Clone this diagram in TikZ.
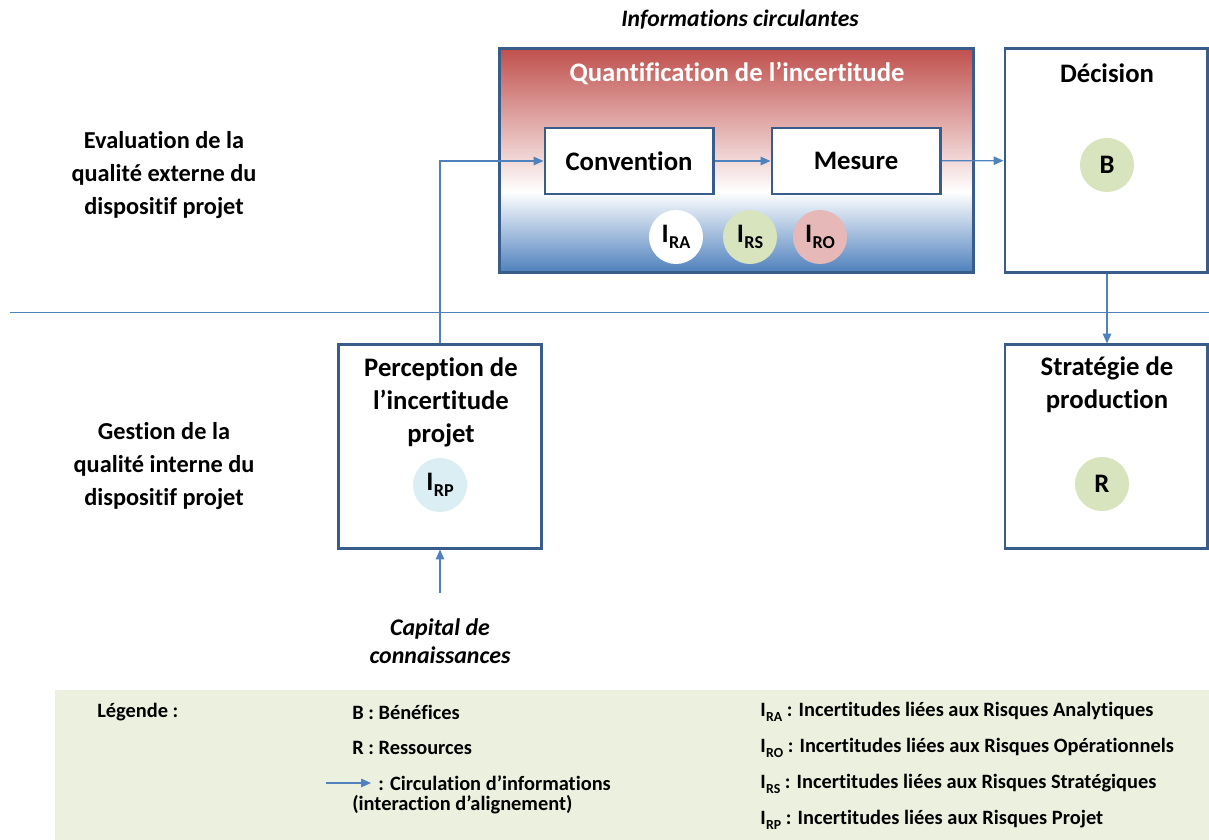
\documentclass[tikz,border=0pt]{standalone}
\usepackage{fontspec}
\setmainfont{Carlito}[Ligatures={TeX,NoCommon}]
\usetikzlibrary{arrows.meta}
\definecolor{qred}{HTML}{C0504D}
\definecolor{qblue}{HTML}{4F81BD}
\definecolor{boxline}{HTML}{385D8A}
\definecolor{flow}{HTML}{4F81BD}
\definecolor{tokgreen}{HTML}{D7E4BD}
\definecolor{tokpink}{HTML}{E6B9B8}
\definecolor{tokcyan}{HTML}{DAEEF3}
\definecolor{legfill}{HTML}{EBF1DE}
\pgfdeclareverticalshading{quantshade}{100bp}{color(0bp)=(qblue); color(25bp)=(qblue); color(43bp)=(white); color(75bp)=(qred); color(100bp)=(qred)}
\newcommand{\isub}[1]{I\kern0.3pt\raisebox{-0.5ex}{\scalebox{0.68}{#1}}}
\tikzset{
  frame/.style={draw=boxline,line width=2.1pt,inner sep=0pt},
  token/.style={circle,minimum size=1.35cm,inner sep=0pt,font=\fontsize{19}{23}\selectfont\bfseries},
  flowarrow/.style={draw=flow,line width=0.9pt,-{Triangle[length=7pt,width=6pt]}},
  big/.style={font=\fontsize{19}{23.4}\selectfont\bfseries,align=center},
  side/.style={font=\fontsize{17.3}{23.4}\selectfont\bfseries,align=center},
  legtext/.style={font=\fontsize{14.5}{17}\selectfont\bfseries,anchor=west,inner sep=0pt},
}
\begin{document}
\begin{tikzpicture}[x=0.025cm,y=-0.025cm]
\useasboundingbox (0,0) rectangle (1209,840);
% Top title
\node[font=\fontsize{16.8}{19}\selectfont\bfseries\itshape] (infos) at (740,20) {Informations circulantes};
% Separator
\draw[flow,line width=0.6pt] (10,312) -- (1209,312);
% Side labels
\node[side] (evalq) at (164,175) {Evaluation de la\\qualité externe du\\dispositif projet};
\node[side] (gestq) at (164,466) {Gestion de la\\qualité interne du\\dispositif projet};
% Quantification de l'incertitude
\node[frame,shading=quantshade,minimum width=11.825cm,minimum height=5.575cm] (quant) at (736.5,160.5) {};
\node[big,text=white] (quanttitle) at (737,73) {Quantification de l’incertitude};
\node[frame,fill=white,big,minimum width=4.2cm,minimum height=1.65cm] (conv) at (629,161) {Convention};
\node[frame,fill=white,big,minimum width=4.2cm,minimum height=1.65cm] (mesure) at (856,161) {Mesure};
\node[token,fill=white] (ira) at (676,237) {\isub{RA}};
\node[token,fill=tokgreen] (irs) at (750,237) {\isub{RS}};
\node[token,fill=tokpink] (iro) at (820,237) {\isub{RO}};
% Decision
\node[frame,fill=white,minimum width=5.05cm,minimum height=5.575cm] (dec) at (1106,160.5) {};
\node[big] (dectitle) at (1107,73) {Décision};
\node[token,fill=tokgreen] (ben) at (1107,165) {B};
% Strategie de production
\node[frame,fill=white,minimum width=5.05cm,minimum height=5.075cm] (strat) at (1106,446.5) {};
\node[big] (strattitle) at (1107,385) {Stratégie de\\production};
\node[token,fill=tokgreen] (res) at (1102,484) {R};
% Perception
\node[frame,fill=white,minimum width=5.075cm,minimum height=5.075cm] (perc) at (440,446.5) {};
\node[big] (perctitle) at (441,402) {Perception de\\l’incertitude\\projet};
\node[token,fill=tokcyan] (irp) at (440,485) {\isub{RP}};
% Capital
\node[font=\fontsize{17}{20}\selectfont\bfseries\itshape,align=center] (capital) at (440,641) {Capital de\\connaissances};
\coordinate (capsrc) at (440,593);
% Flows
\draw[flowarrow] (capsrc) -- (capsrc |- perc.south);
\draw[flowarrow] (perc.north) |- (conv.west);
\draw[flowarrow] (conv) -- (mesure);
\draw[flowarrow] (mesure) -- (dec);
\draw[flowarrow] (dec.south -| ben) -- (strat.north -| ben);
% Legend
\fill[legfill] (55,690) rectangle (1209,840);
\node[legtext] (legtitle) at (97,712) {Légende :};
\node[legtext] (legb) at (352,712) {B : Bénéfices};
\node[legtext] (legr) at (352,748) {R : Ressources};
\coordinate (legarra) at (326,783);
\coordinate (legarrb) at (371,783);
\draw[flowarrow] (legarra) -- (legarrb);
\node[legtext] (legflow) at (378,783) {: Circulation d’informations};
\node[legtext] (legflowb) at (352,805) {(interaction d’alignement)};
\node[legtext] (legra) at (760,712) {\isub{RA} : Incertitudes liées aux Risques Analytiques};
\node[legtext] (legro) at (760,748) {\isub{RO} : Incertitudes liées aux Risques Opérationnels};
\node[legtext] (legrs) at (760,784) {\isub{RS} : Incertitudes liées aux Risques Stratégiques};
\node[legtext] (legrp) at (760,820) {\isub{RP} : Incertitudes liées aux Risques Projet};
\end{tikzpicture}
\end{document}
